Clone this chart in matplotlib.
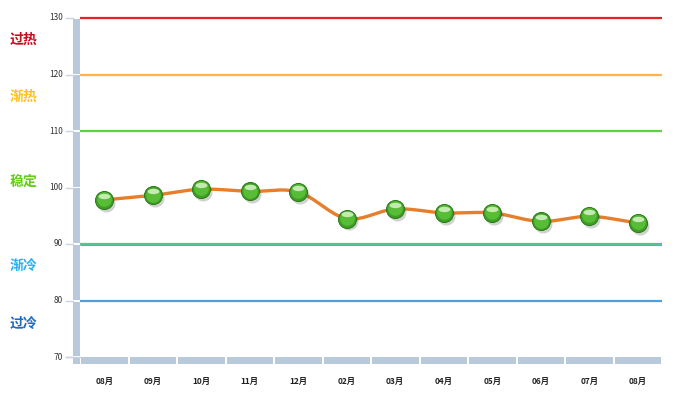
import numpy as np
import matplotlib
matplotlib.use("Agg")
import matplotlib.pyplot as plt
from matplotlib.patches import Rectangle
from matplotlib.path import Path
from matplotlib import transforms

plt.rcParams['font.family'] = ['Noto Sans CJK SC', 'DejaVu Sans']

categories = ["08月", "09月", "10月", "11月", "12月", "02月", "03月", "04月", "05月", "06月", "07月", "08月"]
values = [97.8, 98.6, 99.7, 99.3, 99.2, 94.5, 96.2, 95.5, 95.5, 94.0, 94.9, 93.7]
y_ticks = [70, 80, 90, 100, 110, 120, 130]
threshold_levels = [130, 120, 110, 90, 80]
threshold_colors = ["#e02424", "#ffb547", "#5fd046", "#4cc890", "#4c9fe0"]
zone_labels = ["过热", "渐热", "稳定", "渐冷", "过冷"]
zone_colors = ["#cc0a1e", "#ffc21a", "#66cc1a", "#2fb0f0", "#1b6cc4"]
zone_label_px_y = [40, 97, 182, 266, 324]

W, H = 674, 394
fig = plt.figure(figsize=(W / 100, H / 100), dpi=100)
L, R, T, B = 80, 662, 18, 357
ax = fig.add_axes([L / W, 1 - B / H, (R - L) / W, (B - T) / H])
n = len(categories)
ax.set_xlim(-0.5, n - 0.5)
ax.set_ylim(70, 130)
for s in ax.spines.values():
    s.set_visible(False)
ax.set_xticks([])
ax.set_yticks([])

pxx = (n) / (R - L)   # data units per px in x
pxy = 60 / (B - T)    # data units per px in y
bar_col = "#b8c9dc"

# left bar segments
for i in range(len(y_ticks) - 1):
    y0 = y_ticks[i] + 1 * pxy
    y1 = y_ticks[i + 1] - 1 * pxy
    ax.add_patch(Rectangle((-0.5 - 7 * pxx, y0), 6.5 * pxx, y1 - y0, color=bar_col,
                           clip_on=False, lw=0, zorder=1))
ax.add_patch(Rectangle((-0.5 - 7 * pxx, 70 - 7 * pxy), 6.5 * pxx, 6.5 * pxy, color=bar_col,
                       clip_on=False, lw=0, zorder=1))
for i in range(n):
    ax.add_patch(Rectangle((i - 0.5 + 1 * pxx, 70 - 7 * pxy), 1 - 2 * pxx, 6.5 * pxy, color=bar_col,
                           clip_on=False, lw=0, zorder=1))
for yt in y_ticks:
    ax.plot([-0.5 - 14 * pxx, -0.5 - 7 * pxx], [yt, yt], color="#c8d4e2", lw=1, clip_on=False, zorder=1)
    ax.text(-0.5 - 17 * pxx, yt, str(yt), ha="right", va="center", fontsize=6, color="#333333")
ax.plot([-0.5 - 14 * pxx, -0.5], [70, 70], color="#c8d4e2", lw=1, clip_on=False, zorder=1)

for i, c in enumerate(categories):
    ax.text(i, 70 - 24 * pxy, c, ha="center", va="center", fontsize=6, color="#222222", fontweight="bold")

# threshold lines
for lvl, col in zip(threshold_levels, threshold_colors):
    ax.plot([-0.5, n - 0.5], [lvl, lvl], color=col, lw=1.6, zorder=2, clip_on=False,
            solid_capstyle="butt")
    if lvl == 90:
        ax.plot([-0.5, n - 0.5], [lvl - 0.6 * pxy, lvl - 0.6 * pxy], color="#3ab8d8", lw=0.8,
                zorder=2, solid_capstyle="butt")

for lab, col, py in zip(zone_labels, zone_colors, zone_label_px_y):
    fig.text(10 / W, 1 - py / H, lab, ha="left", va="center", fontsize=10, fontweight="bold", color=col)

# smooth line (Catmull-Rom through data points)
x = np.arange(n, dtype=float)
y = np.array(values, dtype=float)
xs, ys = [], []
P = np.column_stack([x, y])
Pext = np.vstack([P[0] - (P[1] - P[0]), P, P[-1] + (P[-1] - P[-2])])
t = np.linspace(0, 1, 20)
for i in range(1, len(Pext) - 2):
    p0, p1, p2, p3 = Pext[i - 1], Pext[i], Pext[i + 1], Pext[i + 2]
    tt = t[:, None]
    seg = 0.5 * ((2 * p1) + (-p0 + p2) * tt + (2 * p0 - 5 * p1 + 4 * p2 - p3) * tt ** 2
                 + (-p0 + 3 * p1 - 3 * p2 + p3) * tt ** 3)
    xs.extend(seg[:, 0]); ys.extend(seg[:, 1])
ax.plot(xs, ys, color="#e67e2c", lw=2.4, zorder=3, solid_capstyle="round")

# markers: shadow, body, gloss
shadow = transforms.offset_copy(ax.transData, fig=fig, x=1.5, y=-2, units="points")
ax.plot(x, y, "o", ms=13, color="#000000", alpha=0.18, mec="none", transform=shadow, zorder=4)
ax.plot(x, y, "o", ms=13, color="#3f9e26", mec="#2c7a18", mew=0.7, zorder=5)
mid = transforms.offset_copy(ax.transData, fig=fig, x=0, y=0.6, units="points")
ax.plot(x, y, "o", ms=10.5, color="#58bd36", mec="none", transform=mid, zorder=6)
th = np.linspace(0, 2 * np.pi, 60)
ell = Path(np.column_stack([np.cos(th), 0.45 * np.sin(th)]))
hl = transforms.offset_copy(ax.transData, fig=fig, x=0, y=3.0, units="points")
ax.plot(x, y, marker=ell, ms=8.5, ls="none", color="#e8fadc", alpha=0.75, mec="none",
        transform=hl, zorder=7)

fig.savefig("out.png", dpi=100)
